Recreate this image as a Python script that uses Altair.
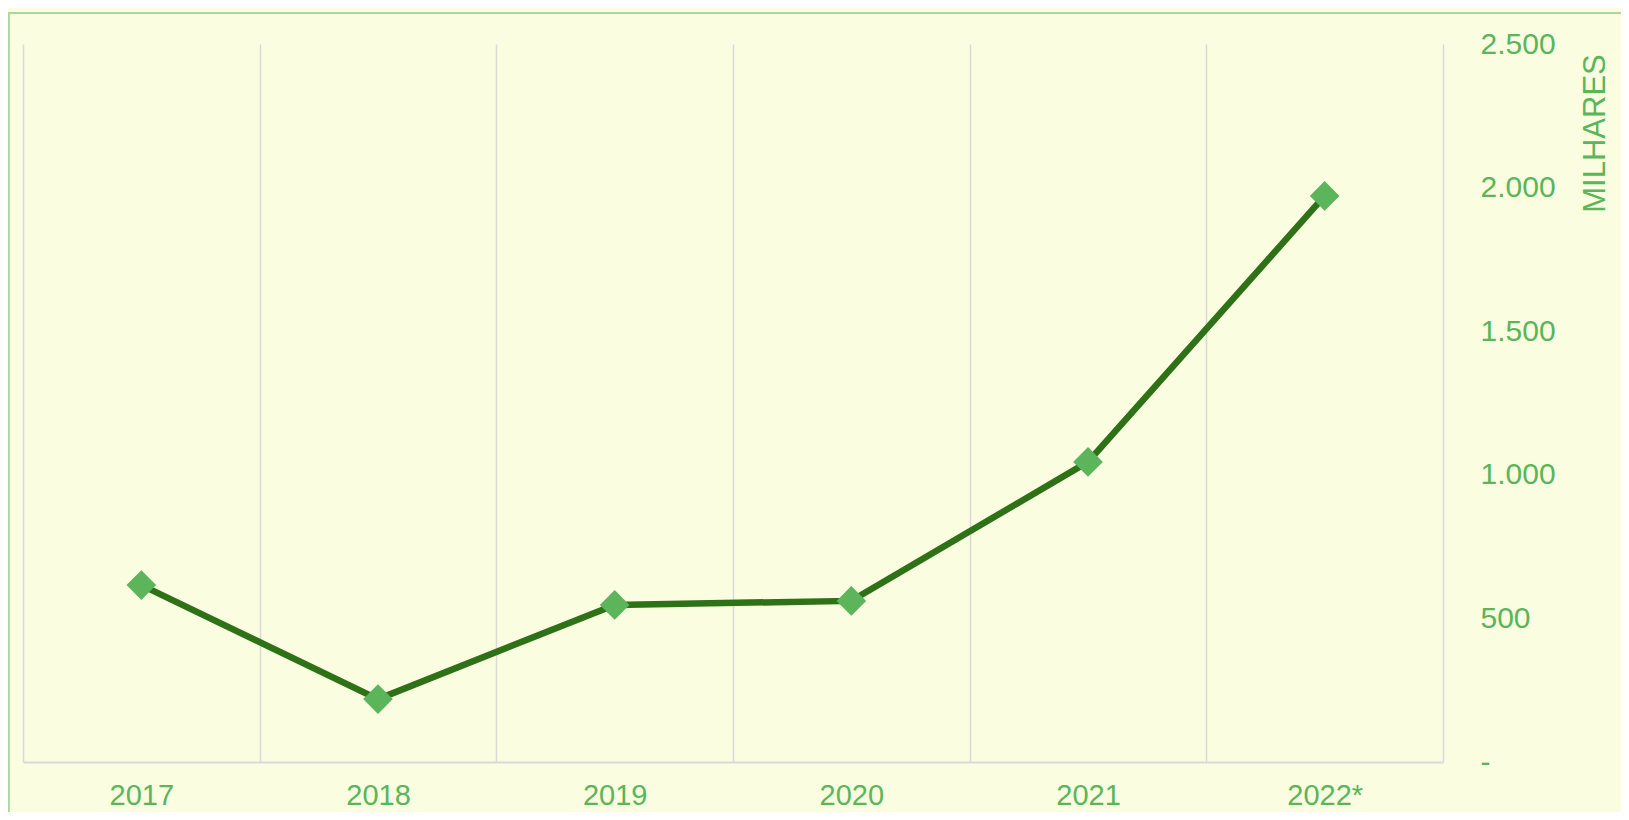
import altair as alt
import pandas as pd

years = ["2017", "2018", "2019", "2020", "2021", "2022*"]
values = [616, 219, 547, 561, 1045, 1971]

df = pd.DataFrame({"ano": years, "valor": values})

BG = "#FAFDE0"
LINE = "#2E7117"
MARK = "#5CB55B"
TXT = "#5CB55B"
GRID = "#D9D9D9"
FRAME = "#A8D99A"

W, H = 1420, 718

yscale = alt.Scale(domain=[0, 2500], nice=False, zero=True)

x = alt.X("ano:N", sort=years, title=None,
          scale=alt.Scale(paddingInner=0, paddingOuter=0),
          axis=alt.Axis(labelAngle=0, labelFont="Liberation Sans", labelFontSize=29,
                        labelColor=TXT, labelPadding=19, ticks=False, domain=True,
                        domainColor=GRID, domainWidth=2, grid=True, gridColor=GRID,
                        gridWidth=1.5, tickBand="extent"))
y = alt.Y("valor:Q", title="MILHARES", scale=yscale,
          axis=alt.Axis(orient="right", values=[0, 500, 1000, 1500, 2000, 2500],
                        labelExpr="datum.value == 0 ? '-' : replace(format(datum.value, ','), ',', '.')",
                        labelFont="Liberation Sans", labelFontSize=30, labelColor=TXT,
                        labelAlign="left", labelBaseline="middle", labelPadding=37,
                        ticks=False, domain=False, grid=False,
                        titleFont="Liberation Sans", titleFontSize=31, titleFontWeight="normal",
                        titleColor=TXT, titleAngle=270, titleX=152, titleY=89,
                        titleAlign="center", titleBaseline="middle"))

line = alt.Chart(df).mark_line(color=LINE, strokeWidth=6.5).encode(x=x, y=y)
pts = alt.Chart(df).mark_point(shape="diamond", filled=True, size=880, color=MARK, opacity=1).encode(
    x=alt.X("ano:N", sort=years), y=alt.Y("valor:Q", scale=yscale))

frame_top = alt.Chart(df).mark_rule(color=FRAME, strokeWidth=1.5).encode(
    x=alt.value(-14.5), x2=alt.value(1620), y=alt.value(-31))
frame_left = alt.Chart(df).mark_rule(color=FRAME, strokeWidth=1.5).encode(
    x=alt.value(-14.5), y=alt.value(-31), y2=alt.value(800))

chart = alt.layer(frame_top, frame_left, line, pts).properties(
    width=W, height=H,
    background=BG,
    padding={"left": 15, "top": 36, "right": 178, "bottom": 50},
    autosize=alt.AutoSizeParams(type="none"),
).configure_view(stroke=None)

chart.save("out.html", embed_options={"renderer": "svg", "actions": False})
